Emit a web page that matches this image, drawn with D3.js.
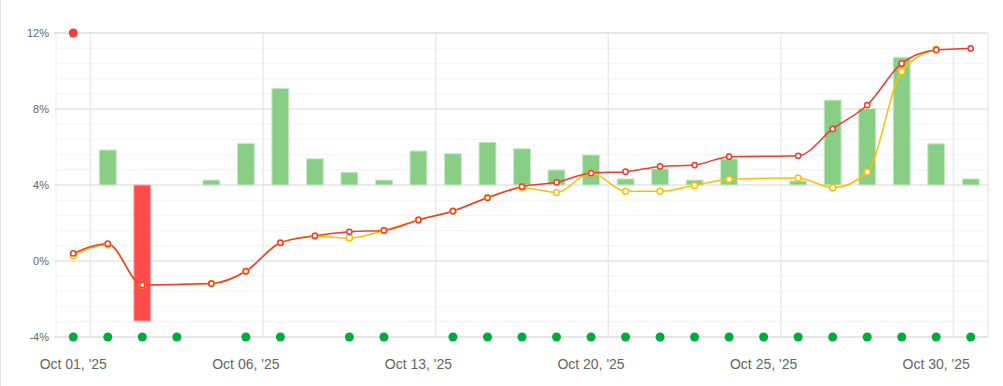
<!DOCTYPE html>
<html>
<head>
<meta charset="utf-8">
<script src="https://cdn.jsdelivr.net/npm/d3@7"></script>
<style>
  body { margin: 0; background: #fff; }
  svg { display: block; font-family: "Liberation Sans", Arial, sans-serif; }
</style>
</head>
<body>
<svg id="chart"></svg>
<script>
const dates = [
  'Oct 01', 'Oct 02', 'Oct 03', 'Oct 04', 'Oct 05', 'Oct 06', 'Oct 07', 'Oct 08', 'Oct 09',
  'Oct 10', 'Oct 13', 'Oct 14', 'Oct 15', 'Oct 16', 'Oct 17', 'Oct 20', 'Oct 21', 'Oct 22',
  'Oct 23', 'Oct 24', 'Oct 25', 'Oct 26', 'Oct 27', 'Oct 28', 'Oct 29', 'Oct 30', 'Oct 31',
];

// bars rise (or fall) from the 4% line
const barBase = 4;
const barValues = [
  null, 5.84, -3.16, null, 4.26, 6.19, 9.09, 5.38, 4.67, 4.26, 5.79, 5.65, 6.25, 5.91,
  4.79, 5.58, 4.32, 4.84, 4.26, 5.37, null, 4.21, 8.47, 8.02, 10.72, 6.17, 4.32,
];

const redLine = [
  0.4, 0.91, -1.26, null, -1.19, -0.54, 0.96, 1.33, 1.54, 1.61, 2.16, 2.63, 3.33, 3.91,
  4.14, 4.63, 4.7, 4.98, 5.05, 5.49, null, 5.54, 6.95, 8.21, 10.4, 11.11, 11.19,
];

const yellowLine = [
  0.28, 0.86, -1.26, null, -1.19, -0.54, 0.96, 1.3, 1.21, 1.61, 2.16, 2.63, 3.33, 3.86,
  3.61, 4.63, 3.67, 3.67, 3.98, 4.3, null, 4.37, 3.86, 4.68, 9.98, 11.14, null,
];

// 1 = green dot on the bottom row
const greenDots = [1, 1, 1, 1, 0, 1, 1, 0, 1, 1, 0, 1, 1, 1, 1, 1, 1, 1, 1, 1, 1, 1, 1, 1, 1, 1, 1];
const redDots = [0];

const yTicks = [-4, 0, 4, 8, 12];

const width = 1003;
const height = 386;
const margin = { top: 33, right: 15, bottom: 49, left: 56 };

const svg = d3.select('#chart').attr('width', width).attr('height', height);

svg.append('rect').attr('width', width).attr('height', height).attr('fill', '#fff');
svg.append('line')
  .attr('x1', 0.5).attr('x2', 0.5).attr('y1', 0).attr('y2', height)
  .attr('stroke', '#e6e6e6');

const x = d3.scaleBand()
  .domain(d3.range(dates.length))
  .range([margin.left, width - margin.right]);
const bw = x.bandwidth();
const cx = (i) => x(i) + bw / 2;

const y = d3.scaleLinear()
  .domain([-4, 12])
  .range([height - margin.bottom, margin.top]);

// minor grid
const grid = svg.append('g');
grid.selectAll('.minor')
  .data(d3.range(-4, 12.01, 0.8))
  .enter()
  .append('line')
  .attr('x1', margin.left).attr('x2', width - margin.right)
  .attr('y1', (d) => y(d)).attr('y2', (d) => y(d))
  .attr('stroke', '#f3f3f3');

// vertical grid at every 5th band edge
grid.selectAll('.vgrid')
  .data(dates.map((d, i) => i).filter((i) => i % 5 === 0))
  .enter()
  .append('line')
  .attr('x1', (i) => x(i) + bw).attr('x2', (i) => x(i) + bw)
  .attr('y1', margin.top).attr('y2', height - margin.bottom)
  .attr('stroke', '#ebebeb').attr('stroke-width', 1.5);

grid.selectAll('.major')
  .data(yTicks)
  .enter()
  .append('line')
  .attr('x1', margin.left - 2).attr('x2', width - margin.right)
  .attr('y1', (d) => y(d)).attr('y2', (d) => y(d))
  .attr('stroke', '#e6e6e6')
  .attr('stroke-width', (d) => (d === 12 || d === -4 ? 2 : 1.3));

grid.append('line')
  .attr('x1', margin.left).attr('x2', margin.left)
  .attr('y1', margin.top).attr('y2', height - margin.bottom)
  .attr('stroke', '#ebebeb');
grid.append('line')
  .attr('x1', width - margin.right).attr('x2', width - margin.right)
  .attr('y1', margin.top).attr('y2', height - margin.bottom)
  .attr('stroke', '#ebebeb').attr('stroke-width', 1.5);

// y axis labels
svg.append('g')
  .selectAll('text')
  .data(yTicks)
  .enter()
  .append('text')
  .attr('x', 49)
  .attr('y', (d) => y(d))
  .attr('dy', '0.35em')
  .attr('text-anchor', 'end')
  .attr('font-size', 11)
  .attr('fill', '#666')
  .text((d) => `${d}%`);

// x axis labels
svg.append('g')
  .selectAll('text')
  .data(dates.map((d, i) => i).filter((i) => i % 5 === 0))
  .enter()
  .append('text')
  .attr('x', (i) => cx(i))
  .attr('y', 369)
  .attr('text-anchor', 'middle')
  .attr('font-size', 14)
  .attr('fill', '#666')
  .text((i) => `${dates[i]}, '25`);

// bars
const barW = bw * 0.49;
svg.append('g')
  .selectAll('rect')
  .data(barValues.map((v, i) => ({ v, i })).filter((d) => d.v !== null))
  .enter()
  .append('rect')
  .attr('x', (d) => cx(d.i) - barW / 2)
  .attr('width', barW)
  .attr('y', (d) => y(Math.max(d.v, barBase)))
  .attr('height', (d) => Math.abs(y(d.v) - y(barBase)))
  .attr('fill', (d) => (d.v >= barBase ? '#88cf85' : '#ff4b4b'))
  .attr('stroke', (d) => (d.v >= barBase ? '#c8ebc6' : '#ffb0b0'))
  .attr('stroke-width', 1);

// lines
const line = d3.line()
  .defined((d) => d.v !== null)
  .x((d) => cx(d.i))
  .y((d) => y(d.v))
  .curve(d3.curveMonotoneX);

function drawSeries(values, color) {
  const pts = values.map((v, i) => ({ v, i })).filter((d) => d.v !== null);
  svg.append('path')
    .datum(pts)
    .attr('fill', 'none')
    .attr('stroke', color)
    .attr('stroke-width', 1.5)
    .attr('d', line);
  return pts;
}

const yPts = drawSeries(yellowLine, '#ffbf00');
const rPts = drawSeries(redLine, '#ee3b33');

svg.append('g')
  .selectAll('circle')
  .data(yPts)
  .enter()
  .append('circle')
  .attr('cx', (d) => cx(d.i))
  .attr('cy', (d) => y(d.v))
  .attr('r', 3)
  .attr('fill', '#fff')
  .attr('stroke', '#ffbf00')
  .attr('stroke-width', 1.5);

svg.append('g')
  .selectAll('circle')
  .data(rPts)
  .enter()
  .append('circle')
  .attr('cx', (d) => cx(d.i))
  .attr('cy', (d) => y(d.v))
  .attr('r', 2.6)
  .attr('fill', '#fff')
  .attr('stroke', '#ee3b33')
  .attr('stroke-width', 1.5);

// dot rows
svg.append('g')
  .selectAll('circle')
  .data(greenDots.map((v, i) => ({ v, i })).filter((d) => d.v))
  .enter()
  .append('circle')
  .attr('cx', (d) => cx(d.i))
  .attr('cy', y(-4))
  .attr('r', 4.5)
  .attr('fill', '#00aa3c');

svg.append('g')
  .selectAll('circle')
  .data(redDots)
  .enter()
  .append('circle')
  .attr('cx', (i) => cx(i))
  .attr('cy', y(12))
  .attr('r', 4.5)
  .attr('fill', '#f03c3c');
</script>
</body>
</html>
